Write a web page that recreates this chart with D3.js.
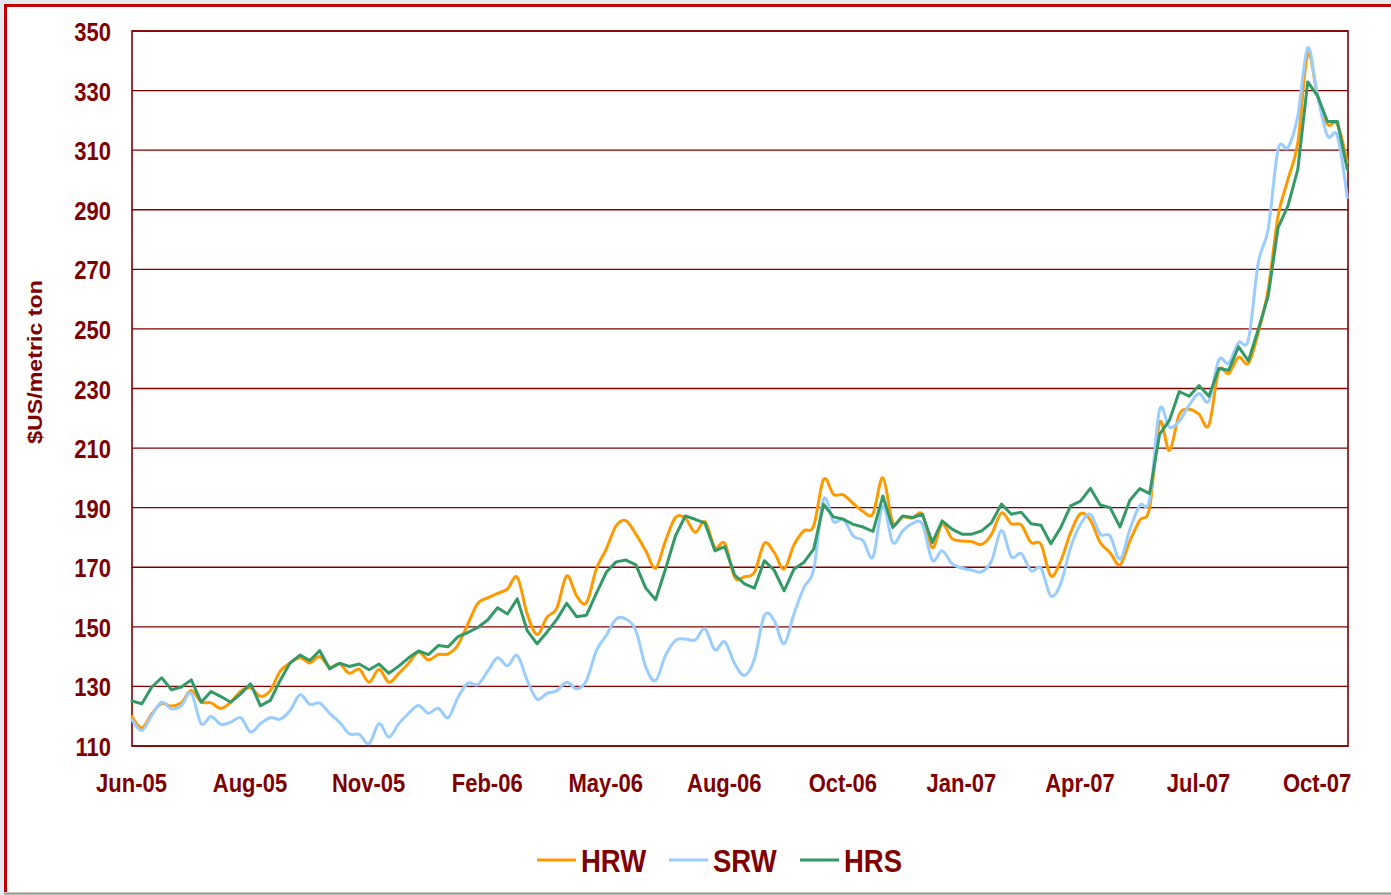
<!DOCTYPE html>
<html>
<head>
<meta charset="utf-8">
<script src="https://cdn.jsdelivr.net/npm/d3@7"></script>
<style>
  html, body { margin: 0; padding: 0; background: #e4e8ef; }
  svg { display: block; }
</style>
</head>
<body>
<script>
'use strict';

// weekly prices, $US/metric ton, Jun-05 .. Oct-07
const hrw = [119.9,116.1,120.8,124.2,123.4,124.5,128.6,124.8,124.5,122.6,124.7,128.4,129.5,126.7,128.6,135.1,137.8,139.6,137.9,140,
  136.5,137.6,134.4,135.8,131.4,135.8,131.4,134.4,137.8,141.5,138.9,140.7,140.9,144,151,157.9,159.7,161.2,162.7,166.6,
  154.3,147.4,153.2,156.3,167.1,160.4,158.1,169.4,176.1,183.9,185.6,181.1,175.5,169.7,178.9,186.7,186.5,181.7,185.3,176.6,
  178,166.6,166.8,168.3,178,175,169.4,177.5,182.2,183.9,199.5,194.5,194.3,191.4,188.7,188,200,185,186.9,186.5,
  187.8,176.6,184.4,179.6,178.8,178.6,177.7,181.1,188.2,184.6,184.2,178.3,177.7,167.1,172.1,181.6,188,185.8,178.3,174.9,
  170.8,178.8,185.8,190,218.5,209.2,221.3,223,221.3,217.7,236,235,240.5,238.5,248.8,263.3,287.9,300.2,312.5,342.2,
  328.2,318.7,318.7,305.8];

const srw = [118.8,115.2,120.3,124.7,122.5,123.6,127.7,117.5,119.9,117.3,118,119.5,114.7,117.5,119.5,119,121.9,127.2,124,124.4,
  121,118,114.1,113.9,110.8,117.5,113,117.5,121,123.6,121,122.7,119.5,126.4,131.1,130.6,135.1,139.6,136.9,140.4,
  132,125.7,127.7,128.6,131.4,129.2,132,142,147.1,152.6,152.6,148.7,136.5,132,140.4,145.4,145.9,145.6,149.3,142.3,
  145,137.6,133.7,139.2,153.8,152.1,144.3,154.3,163.2,169.4,192.8,185.3,186.1,180.5,178.9,173.5,190.6,178.3,182.2,184.7,
  184.4,172.4,175.5,171.2,169.7,169,168.5,172.1,182.3,173.5,174.6,168.8,169.7,160.4,164.5,176.6,184.4,187.8,181.1,180.5,
  172.7,182.7,190.8,192.8,222.8,217,219,224.4,228.3,225.8,239.6,238.5,245.4,246.5,272.3,283.5,310.3,310.9,321.5,344.4,
  328.2,314.8,314.8,294.1];

const hrs = [125.1,124.2,129.8,132.9,128.9,129.8,132.2,124.7,128.3,126.6,124.7,127.5,130.9,123.5,125.3,132,137.9,140.5,138.7,142,
  135.9,137.8,136.7,137.5,135.6,137.5,134.4,136.8,139.6,141.9,140.7,143.7,143.3,146.7,148.1,149.8,152.3,156.4,154.3,159.4,
  148.7,144.3,148.2,152.5,157.9,153.4,153.9,161.2,168.3,171.8,172.4,170.8,163,159.1,169.4,180.5,187.2,186.1,184.8,175.5,
  176.9,167.4,164.4,163,172.2,169,162.1,169.4,171.6,176.1,191.1,186.9,186.1,184.4,183.5,182,193.9,183.3,187.2,186.7,
  187.8,178.3,185.6,182.8,181.1,181.1,182.2,185,191.2,187.8,188.5,184.6,184.1,177.9,183.3,190.6,192.2,196.5,190.9,190,
  183.5,192.5,196.4,194.7,214.6,219.3,229,227.4,231,227.4,236.7,236.1,244,239.3,249.9,261.1,284,291.3,303.6,332.9,
  328.2,319.6,319.6,303.6];

const xTickLabels = ['Jun-05','Aug-05','Nov-05','Feb-06','May-06','Aug-06','Oct-06','Jan-07','Apr-07','Jul-07','Oct-07'];
const xTickEvery = 12;
const yTicks = [110,130,150,170,190,210,230,250,270,290,310,330,350];
const seriesNames = ['HRW','SRW','HRS'];

const W = 1391, H = 895;
const plot = { left: 132, top: 31, right: 1348, bottom: 746 };
const dark = '#800000';
const colors = { HRW: '#ff9900', SRW: '#99ccff', HRS: '#339966' };
const stretch = 1.16; // text in the picture is a bit taller than wide

const svg = d3.select('body').append('svg')
  .attr('width', W)
  .attr('height', H)
  .style('font-family', '"Liberation Sans", Arial, sans-serif')
  .style('font-weight', 'bold');

// slide frame
svg.append('rect')
  .attr('x', 4).attr('y', 4)
  .attr('width', W).attr('height', H - 6)
  .attr('fill', '#ffffff');
svg.append('path')
  .attr('d', `M5.5,${H - 3} V5.5 H${W}`)
  .attr('fill', 'none')
  .attr('stroke', '#c00000')
  .attr('stroke-width', 3);
svg.append('line')
  .attr('x1', 4).attr('x2', W)
  .attr('y1', H - 1.5).attr('y2', H - 1.5)
  .attr('stroke', '#9a948c')
  .attr('stroke-width', 2);

const x = d3.scaleLinear()
  .domain([0, hrw.length - 1])
  .range([plot.left, plot.left + 9.88 * (hrw.length - 1)]);

const y = d3.scaleLinear()
  .domain([110, 350])
  .range([plot.bottom, plot.top]);

// gridlines
svg.append('g')
  .selectAll('line')
  .data(yTicks)
  .enter()
  .append('line')
    .attr('x1', plot.left)
    .attr('x2', plot.right)
    .attr('y1', d => y(d))
    .attr('y2', d => y(d))
    .attr('stroke', dark)
    .attr('stroke-width', 1.4);

svg.append('rect')
  .attr('x', plot.left)
  .attr('y', plot.top)
  .attr('width', plot.right - plot.left)
  .attr('height', plot.bottom - plot.top)
  .attr('fill', 'none')
  .attr('stroke', dark)
  .attr('stroke-width', 1.6);

// y axis labels
let yAxis = d3.axisLeft(y).tickValues(yTicks).tickSize(0).tickFormat(d3.format('d'));
let gy = svg.append('g')
  .attr('transform', `translate(${plot.left}, 0)`)
  .call(yAxis);
gy.select('.domain').remove();
gy.selectAll('text')
  .attr('x', -21)
  .attr('y', 0)
  .attr('dy', null)
  .attr('transform', `translate(0, 9.5) scale(1, ${stretch})`)
  .attr('fill', dark)
  .style('font-size', '22px')
  .style('font-family', '"Liberation Sans", Arial, sans-serif')
  .style('font-weight', 'bold');

// x axis labels
let xAxis = d3.axisBottom(x)
  .tickValues(d3.range(0, hrw.length, xTickEvery))
  .tickSize(0)
  .tickFormat((d, i) => xTickLabels[i]);
let gx = svg.append('g')
  .attr('transform', `translate(0, ${plot.bottom})`)
  .call(xAxis);
gx.select('.domain').remove();
gx.selectAll('text')
  .attr('y', 0)
  .attr('dy', null)
  .attr('transform', `translate(-1, 46) scale(1, ${stretch})`)
  .attr('fill', dark)
  .style('font-size', '22px')
  .style('font-family', '"Liberation Sans", Arial, sans-serif')
  .style('font-weight', 'bold');

// y title
svg.append('text')
  .attr('transform', `translate(41.5, 362) rotate(-90) scale(${stretch}, 1)`)
  .attr('text-anchor', 'middle')
  .attr('fill', dark)
  .style('font-size', '20px')
  .text('$US/metric ton');

// lines
const smooth = d3.line()
  .x((d, i) => x(i))
  .y(d => y(d))
  .curve(d3.curveCardinal);

const straight = d3.line()
  .x((d, i) => x(i))
  .y(d => y(d));

const seriesData = { HRW: hrw, SRW: srw, HRS: hrs };

seriesNames.forEach(name => {
  svg.append('path')
    .datum(seriesData[name])
    .attr('d', name === 'HRS' ? straight : smooth)
    .attr('fill', 'none')
    .attr('stroke', colors[name])
    .attr('stroke-width', 3)
    .attr('stroke-linejoin', 'round')
    .attr('stroke-linecap', 'round');
});

// legend
const legendX = [537, 669, 800];
const legend = svg.append('g');
seriesNames.forEach((name, i) => {
  legend.append('line')
    .attr('x1', legendX[i])
    .attr('x2', legendX[i] + 39)
    .attr('y1', 860)
    .attr('y2', 860)
    .attr('stroke', colors[name])
    .attr('stroke-width', 3);
  legend.append('text')
    .attr('transform', `translate(${legendX[i] + 44}, 872) scale(1, ${stretch})`)
    .attr('fill', dark)
    .style('font-size', '27.5px')
    .text(name);
});
</script>
</body>
</html>
